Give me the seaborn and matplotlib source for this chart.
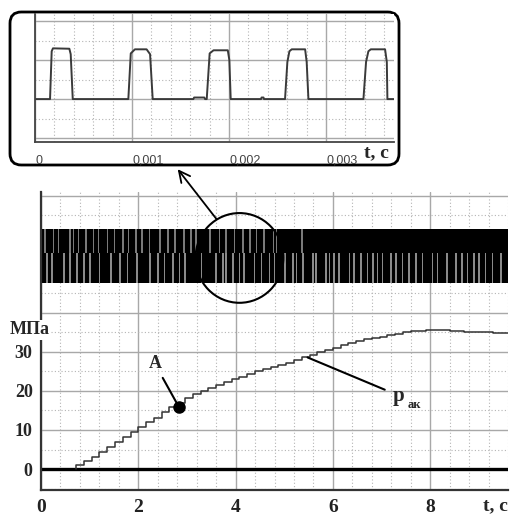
import matplotlib
matplotlib.use('Agg')
import matplotlib.pyplot as plt
import seaborn as sns
from matplotlib.patches import Ellipse, FancyBboxPatch
from matplotlib.ticker import MultipleLocator, FuncFormatter

sns.set_style('white')
plt.rcParams['font.family'] = ['Liberation Serif', 'DejaVu Serif']

# давление в аккумуляторе p_ак, МПа (ступеньки по точкам с рисунка)
t_p = [0.72, 0.88, 1.04, 1.20, 1.36, 1.52, 1.68, 1.84, 2.00, 2.16, 2.32, 2.48,
       2.64, 2.80, 2.96, 3.12, 3.28, 3.44, 3.60, 3.76, 3.92, 4.08, 4.24, 4.40,
       4.56, 4.72, 4.88, 5.04, 5.20, 5.36, 5.52, 5.68, 5.84, 6.00, 6.16, 6.32,
       6.48, 6.64, 6.80, 6.96, 7.12, 7.28, 7.44, 7.60, 7.76, 7.92, 8.08, 8.40,
       8.70, 9.00, 9.30, 9.60]
p_ak = [0.0, 0.9, 2.0, 3.1, 4.3, 5.6, 7.0, 8.3, 9.6, 10.8, 12.0, 13.2,
        14.5, 15.8, 17.0, 18.2, 19.1, 19.9, 20.7, 21.5, 22.3, 23.0, 23.7, 24.4,
        25.0, 25.6, 26.1, 26.6, 27.2, 27.9, 28.7, 29.3, 29.9, 30.5, 31.1, 31.8,
        32.4, 32.9, 33.3, 33.7, 33.9, 34.3, 34.7, 35.0, 35.3, 35.5, 35.7, 35.7,
        35.4, 35.1, 35.0, 34.8]

# второй канал - на нуле
t_zero = [0.0, 9.6]
p_zero = [0.0, 0.0]

# полоса управляющего сигнала (уровни в единицах оси)
band_t = [0.0, 9.6]
band_low, band_mid, band_high = 47.7, 55.4, 61.5
gaps_upper = [0.08, 0.26, 0.36, 0.59, 0.67, 0.77, 0.93, 1.08, 1.18, 1.37, 1.51,
              1.68, 1.80, 1.96, 2.07, 2.23, 2.44, 2.61, 2.75, 2.94, 3.09, 3.19,
              3.47, 3.67, 3.81, 3.98, 4.15, 4.29, 4.43, 4.59, 4.78, 4.84, 5.37]
gaps_lower = [0.12, 0.23, 0.47, 0.60, 0.74, 0.88, 1.01, 1.20, 1.44, 1.63, 1.78,
              1.97, 2.24, 2.41, 2.54, 2.71, 2.85, 2.96, 3.30, 3.60, 3.74, 3.81,
              3.94, 4.08, 4.18, 4.39, 4.53, 4.70, 4.80, 5.01, 5.18, 5.25, 5.38,
              5.59, 5.66, 5.86, 5.93, 6.03, 6.13, 6.34, 6.44, 6.58, 6.71, 6.82,
              6.92, 7.02, 7.19, 7.30, 7.43, 7.57, 7.71, 7.84, 8.05, 8.15, 8.35,
              8.53, 8.66, 8.77, 8.90, 9.01, 9.14, 9.28, 9.45]

# врезка: импульсы на малом интервале, t в с
t_pulse = [0.0, 0.000155, 0.000172, 0.000185, 0.000354, 0.000368, 0.000389,
           0.000962, 0.000987, 0.00103, 0.00115, 0.001186, 0.001213,
           0.001632, 0.00164, 0.001745, 0.001753,
           0.00177, 0.0018, 0.00184, 0.001987, 0.002003, 0.002017,
           0.00233, 0.002335, 0.002355, 0.00236,
           0.002577, 0.002601, 0.002622, 0.002646, 0.002784, 0.0028, 0.002818,
           0.003385, 0.003412, 0.003436, 0.003461, 0.003608, 0.003626, 0.003632,
           0.003704]
u_pulse = [0.0, 0.0, 2.45, 2.6, 2.58, 2.3, 0.0,
           0.0, 2.34, 2.55, 2.55, 2.3, 0.0,
           0.0, 0.08, 0.08, 0.0,
           0.0, 2.34, 2.5, 2.5, 2.0, 0.0,
           0.0, 0.08, 0.08, 0.0,
           0.0, 1.9, 2.45, 2.55, 2.55, 1.9, 0.0,
           0.0, 1.9, 2.45, 2.55, 2.55, 1.9, 0.0,
           0.0]

point_a = (2.83, 16.0)
point_p = (5.48, 28.6)

inset_ticks = [0, 0.001, 0.002, 0.003]
inset_labels = ['0', '0,001', '0,002', '0,003']

fig = plt.figure(figsize=(5.12, 5.15), dpi=100)

# основной график
ax = fig.add_axes([41/512, 1 - 490/515, 467/512, 298/515])
ax.set_xlim(0, 9.6)
ax.set_ylim(-5.38, 71.0)
ax.xaxis.set_major_locator(MultipleLocator(2))
ax.xaxis.set_minor_locator(MultipleLocator(0.4))
ax.yaxis.set_major_locator(MultipleLocator(10))
ax.yaxis.set_minor_locator(MultipleLocator(5))
ax.yaxis.set_major_formatter(FuncFormatter(lambda v, p: f'{v:.0f}' if 0 <= v <= 30 else ''))
ax.grid(which='major', color='#a8a8a8', lw=1.0, ls='-')
ax.grid(which='minor', color='#b4b4b4', lw=0.8, ls=(0, (1, 2)))
ax.set_axisbelow(True)
for s in ['top', 'right']:
    ax.spines[s].set_visible(False)
for s in ['left', 'bottom']:
    ax.spines[s].set_color('#333333')
    ax.spines[s].set_linewidth(1.6)
ax.tick_params(axis='x', which='major', direction='inout', length=9, width=1.3,
               labelsize=14, pad=2, colors='#222222')
ax.tick_params(axis='x', which='minor', direction='inout', length=6, width=1.1)
ax.tick_params(axis='y', which='both', length=0, labelsize=13, pad=6)
for lbl in ax.get_xticklabels() + ax.get_yticklabels():
    lbl.set_fontweight('bold')

ax.fill_between(band_t, band_low, band_high, color='black', lw=0)
ax.bar(gaps_upper, band_high - band_mid, bottom=band_mid, width=0.035,
       color='#7a7a7a', lw=0)
ax.bar(gaps_lower, band_mid - band_low, bottom=band_low, width=0.035,
       color='#8a8a8a', lw=0)

sns.lineplot(x=t_zero, y=p_zero, ax=ax, color='black', lw=2.4,
             estimator=None, sort=False)
sns.lineplot(x=t_p, y=p_ak, ax=ax, color='#333333', lw=1.1,
             drawstyle='steps-pre', estimator=None, sort=False)

ax.plot(*point_a, 'o', color='black', ms=8)
ax.annotate('A', xy=point_a, xytext=(2.34, 27.0), ha='center', va='center',
            fontsize=13, fontweight='bold',
            arrowprops=dict(arrowstyle='-', lw=1.5, color='black', shrinkA=2, shrinkB=0))
ax.annotate('p', xy=point_p, xytext=(7.36, 18.8), ha='center', va='center',
            fontsize=15, fontweight='bold',
            arrowprops=dict(arrowstyle='-', lw=1.5, color='black', shrinkA=4, shrinkB=0))
ax.text(7.68, 16.4, 'ак', ha='center', va='center', fontsize=9, fontweight='bold')
ax.annotate('t, c', xy=(9.35, 0), xycoords=('data', 'axes fraction'),
            xytext=(0, -5), textcoords='offset points', ha='center', va='top',
            fontsize=14, fontweight='bold')

ax.add_patch(Ellipse((4.08, 54.1), width=1.805, height=23.0, fill=False,
                     lw=1.5, ec='black', clip_on=False, zorder=5))

fig.text(30/512, 1 - 330/515, 'МПа', ha='center', va='center', fontsize=13,
         fontweight='bold', bbox=dict(fc='white', ec='none', pad=1))

# рамка врезки
box = FancyBboxPatch((10/512, 1 - 165/515), 389/512, 153/515,
                     boxstyle='round,pad=0,rounding_size=0.022',
                     transform=fig.transFigure, fc='white', ec='black', lw=2.0,
                     zorder=1)
fig.add_artist(box)

ins = fig.add_axes([35/512, 1 - 142/515, 359/512, 128/515])
ins.set_zorder(2)
ins.set_facecolor('white')
ins.set_xlim(0, 0.0037)
ins.set_ylim(-2.2, 4.36)
ins.xaxis.set_major_locator(MultipleLocator(0.001))
ins.xaxis.set_minor_locator(MultipleLocator(0.0002))
ins.yaxis.set_major_locator(MultipleLocator(2))
ins.yaxis.set_minor_locator(MultipleLocator(1))
ins.set_xticks(inset_ticks)
ins.set_xticklabels(inset_labels, family=['Liberation Sans', 'DejaVu Sans'],
                    fontsize=9, color='#444444', ha='left')
ins.set_yticklabels([])
ins.grid(which='major', color='#a8a8a8', lw=1.0, ls='-')
ins.grid(which='minor', color='#b4b4b4', lw=0.8, ls=(0, (1, 2)))
ins.set_axisbelow(True)
for s in ['top', 'right']:
    ins.spines[s].set_visible(False)
for s in ['left', 'bottom']:
    ins.spines[s].set_color('#444444')
    ins.spines[s].set_linewidth(1.3)
ins.tick_params(axis='x', which='major', direction='out', length=6, width=1.2,
                pad=3, colors='#444444')
ins.tick_params(axis='x', which='minor', direction='out', length=4, width=1.0,
                colors='#444444')
ins.tick_params(axis='y', which='both', direction='out', length=5, width=1.0,
                colors='#444444')
sns.lineplot(x=t_pulse, y=u_pulse, ax=ins, color='#3a3a3a', lw=1.4,
             estimator=None, sort=False)

fig.text(376/512, 1 - 153/515, 't, c', ha='center', va='center', fontsize=14,
         fontweight='bold', zorder=3)

ax.annotate('', xy=(176/512, 1 - 167/515), xytext=(218/512, 1 - 221/515),
            xycoords='figure fraction', annotation_clip=False,
            arrowprops=dict(arrowstyle='->', lw=1.3, color='black',
                            mutation_scale=20))

fig.savefig('out.png', dpi=100)
